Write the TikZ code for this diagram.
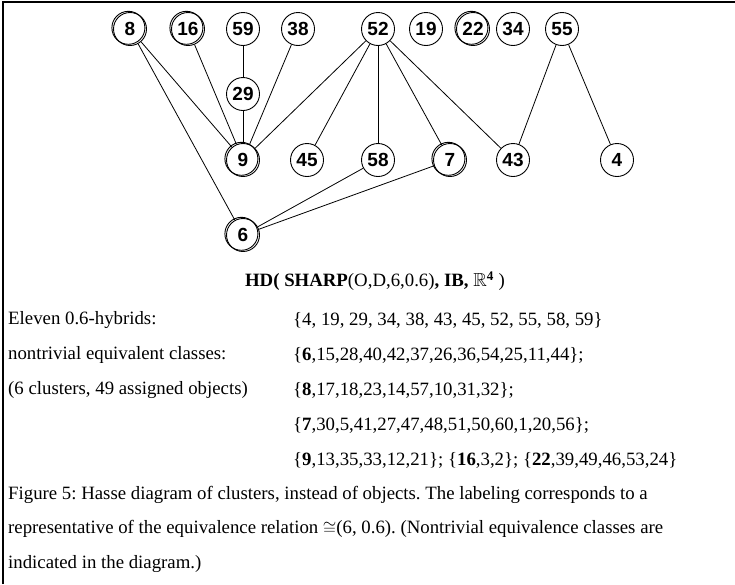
\documentclass[tikz,border=0pt]{standalone}
\usepackage{fontspec}
\usepackage{amssymb}
\setmainfont{Liberation Serif}
\newfontfamily\numfont{Liberation Sans}
\frenchspacing

\begin{document}
\begin{tikzpicture}[x=1pt,y=-1pt,
 vertex/.style={circle,draw,line width=0.9pt,minimum size=33pt,inner sep=0pt,font=\numfont\bfseries\fontsize{19}{19}\selectfont},
 cls/.style={vertex,preaction={draw,transform canvas={shift={(-1.6pt,1.2pt)}}}},
 txt/.style={anchor=west,inner sep=0pt,font=\fontsize{18.8}{20}\selectfont}]

\useasboundingbox (0,0) rectangle (735,584);
\draw[line width=1.2pt] (3,584) -- (3,2) -- (735,2);

% top row
\node[cls]    (n8)  at (130,29) {8};
\node[cls]    (n16) at (188,29) {16};
\node[vertex] (n59) at (243,29) {59};
\node[vertex] (n38) at (298,29) {38};
\node[vertex] (n52) at (378,29) {52};
\node[vertex] (n19) at (426,29) {19};
\node[cls]    (n22) at (473,29) {22};
\node[vertex] (n34) at (513,29) {34};
\node[vertex] (n55) at (562,29) {55};

\node[vertex] (n29) at (243,94) {29};

% middle row
\node[cls]    (n9)  at (243,160) {9};
\node[vertex] (n45) at (307,160) {45};
\node[vertex] (n58) at (378,160) {58};
\node[cls]    (n7)  at (450,160) {7};
\node[vertex] (n43) at (513,160) {43};
\node[vertex] (n4)  at (617,160) {4};

\node[cls]    (n6)  at (243,235) {6};

\path[line width=0.8pt]
 (n8)  edge (n9)
       edge (n6)
 (n16) edge (n9)
 (n59) edge (n29)
 (n29) edge (n9)
 (n38) edge (n9)
 (n52) edge (n9)
       edge (n45)
       edge (n58)
       edge (n7)
       edge (n43)
 (n55) edge (n43)
       edge (n4)
 (n58) edge (n6)
 (n7)  edge (n6);

% caption
\node[font=\fontsize{18.8}{20}\selectfont,inner sep=0pt] (title) at (375,281)
 {\textbf{HD(} \textbf{SHARP}(O,D,6,0.6)\textbf{, IB,} $\mathbb{R}^{\mathbf{4}}$ )};

\node[txt] (l1) at (8,320) {Eleven 0.6-hybrids:};
\node[txt] (l2) at (8,355) {nontrivial equivalent classes:};
\node[txt] (l3) at (8,390) {(6 clusters, 49 assigned objects)};
\node[txt] (r1) at (293,320) {\{4, 19, 29, 34, 38, 43, 45, 52, 55, 58, 59\}};
\node[txt] (r2) at (293,355) {\{\textbf{6},15,28,40,42,37,26,36,54,25,11,44\};};
\node[txt] (r3) at (293,390) {\{\textbf{8},17,18,23,14,57,10,31,32\};};
\node[txt] (r4) at (293,425) {\{\textbf{7},30,5,41,27,47,48,51,50,60,1,20,56\};};
\node[txt] (r5) at (293,460) {\{\textbf{9},13,35,33,12,21\}; \{\textbf{16},3,2\}; \{\textbf{22},39,49,46,53,24\}};
\node[txt] (c1) at (8,495) {Figure 5: Hasse diagram of clusters, instead of objects. The labeling corresponds to a};
\node[txt] (c2) at (8,529) {representative of the equivalence relation $\cong$(6, 0.6). (Nontrivial equivalence classes are};
\node[txt] (c3) at (8,564) {indicated in the diagram.)};

\end{tikzpicture}
\end{document}
